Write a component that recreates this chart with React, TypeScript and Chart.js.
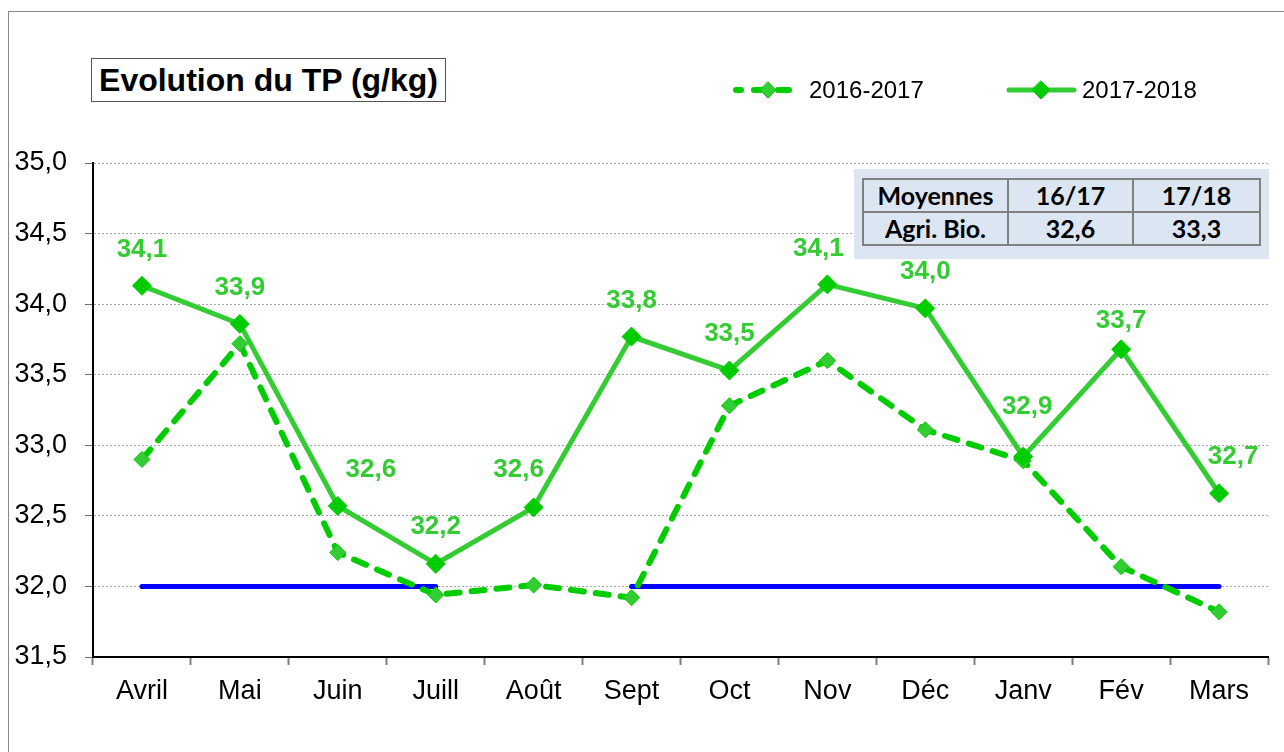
import React, { useEffect, useRef } from "react";
import { Chart, registerables } from "chart.js";

Chart.register(...registerables);

const months = ["Avril", "Mai", "Juin", "Juill", "Août", "Sept", "Oct", "Nov", "Déc", "Janv", "Fév", "Mars"];
const seriesNames = ["2016-2017", "2017-2018"];
const tp2016_2017 = [32.9, 33.72, 32.24, 31.94, 32.01, 31.92, 33.28, 33.6, 33.11, 32.89, 32.14, 31.82];
const tp2017_2018 = [34.13, 33.86, 32.57, 32.16, 32.56, 33.77, 33.53, 34.14, 33.97, 32.92, 33.68, 32.66];
const refLine = [32, 32, 32, 32, null, 32, 32, 32, 32, 32, 32, 32];
const yMin = 31.5;
const yMax = 35;
const yStep = 0.5;
const titleText = "Evolution du TP (g/kg)";
const tableHeader = ["Moyennes", "16/17", "17/18"];
const tableRow = ["Agri. Bio.", "32,6", "33,3"];

// label nudges (style): horizontal / vertical shift of each value label relative to the default spot above its point
const labelNudgeX = [0, 0, 33, 0, -15, 0, 0, -9, 0, 4, 0, 14];
const labelNudgeY = [0, 0, 0, -1, -2, 0, -1, 0, -1, -14, 8, 0];

const FONT = "'Liberation Sans', Arial, Helvetica, sans-serif";
const fmt = (v: number) => v.toFixed(1).replace(".", ",");

const SOLID_LINE = "#33CC33";
const SOLID_MARK = "#00CC00";
const DASH_LINE = "#00CC00";
const DASH_MARK = "#33CC33";

function diamond(ctx: CanvasRenderingContext2D, x: number, y: number, r: number, fill: string, stroke: string) {
  ctx.beginPath();
  ctx.moveTo(x, y - r);
  ctx.lineTo(x + r, y);
  ctx.lineTo(x, y + r);
  ctx.lineTo(x - r, y);
  ctx.closePath();
  ctx.fillStyle = fill;
  ctx.fill();
  ctx.lineWidth = 1;
  ctx.strokeStyle = stroke;
  ctx.stroke();
}

const labelPlugin = {
  id: "valueLabels",
  afterDatasetsDraw(chart: any) {
    const ctx = chart.ctx as CanvasRenderingContext2D;
    const idx = chart.data.datasets.findIndex((d: any) => d.label === seriesNames[1]);
    const meta = chart.getDatasetMeta(idx);
    ctx.save();
    ctx.font = `bold 26px ${FONT}`;
    ctx.fillStyle = SOLID_LINE;
    ctx.textAlign = "center";
    ctx.textBaseline = "middle";
    meta.data.forEach((pt: any, i: number) => {
      ctx.fillText(fmt(tp2017_2018[i]), pt.x + labelNudgeX[i], pt.y - 36 + labelNudgeY[i]);
    });
    ctx.restore();
  },
};

const legendPlugin = {
  id: "customLegend",
  afterDraw(chart: any) {
    const ctx = chart.ctx as CanvasRenderingContext2D;
    const y = 90;
    const items = [
      { x: 733, dash: [11, 13], offset: 6, line: DASH_LINE, mark: DASH_MARK, border: DASH_LINE, r: 8, w: 6, text: seriesNames[0] },
      { x: 1006, dash: [], offset: 0, line: SOLID_LINE, mark: SOLID_MARK, border: SOLID_MARK, r: 9, w: 5, text: seriesNames[1] },
    ];
    ctx.save();
    for (const it of items) {
      ctx.beginPath();
      ctx.setLineDash(it.dash);
      ctx.lineDashOffset = it.offset;
      ctx.lineCap = "round";
      ctx.lineWidth = it.w;
      ctx.strokeStyle = it.line;
      ctx.moveTo(it.x + 3, y);
      ctx.lineTo(it.x + 68, y);
      ctx.stroke();
      ctx.setLineDash([]);
      diamond(ctx, it.x + 35, y, it.r, it.mark, it.border);
      ctx.font = `24px ${FONT}`;
      ctx.fillStyle = "#000";
      ctx.textAlign = "left";
      ctx.textBaseline = "middle";
      ctx.fillText(it.text, it.x + 76, y + 1);
    }
    ctx.restore();
  },
};

export default function App() {
  const ref = useRef<HTMLCanvasElement>(null);

  useEffect(() => {
    if (!ref.current) return;
    const chart = new Chart(ref.current, {
      type: "line",
      data: {
        labels: months,
        datasets: [
          {
            label: seriesNames[1],
            data: tp2017_2018,
            borderColor: SOLID_LINE,
            borderWidth: 5,
            pointStyle: "rectRot",
            pointRadius: 9.5,
            pointBackgroundColor: SOLID_MARK,
            pointBorderColor: SOLID_MARK,
            pointBorderWidth: 1,
            tension: 0,
            order: 0,
          },
          {
            label: seriesNames[0],
            data: tp2016_2017,
            borderColor: DASH_LINE,
            borderWidth: 6,
            borderDash: [13, 12],
            borderCapStyle: "round",
            pointStyle: "rectRot",
            pointRadius: 8,
            pointBackgroundColor: DASH_MARK,
            pointBorderColor: DASH_LINE,
            pointBorderWidth: 1,
            tension: 0,
            order: 1,
          },
          {
            label: "Référence",
            data: refLine,
            borderColor: "#0000FF",
            borderWidth: 5,
            borderCapStyle: "round",
            pointRadius: 0,
            spanGaps: false,
            tension: 0,
            order: 2,
          },
        ],
      } as any,
      options: {
        responsive: false,
        animation: false,
        devicePixelRatio: 1,
        layout: { padding: { top: 163, right: 16, left: 0, bottom: 0 } },
        plugins: {
          legend: { display: false },
          tooltip: { enabled: false },
          title: { display: false },
        },
        scales: {
          x: {
            offset: true,
            afterFit: (s: any) => {
              s.height = 95;
            },
            grid: {
              offset: true,
              drawOnChartArea: false,
              drawTicks: true,
              tickLength: 8,
              tickColor: "#808080",
              tickWidth: 2,
            },
            border: { color: "#000", width: 2 },
            ticks: {
              font: { family: FONT, size: 27 },
              color: "#000",
              padding: 10,
              maxRotation: 0,
              autoSkip: false,
            },
          },
          y: {
            min: yMin,
            max: yMax,
            afterFit: (s: any) => {
              s.width = 93;
            },
            grid: {
              color: "#a8a8a8",
              lineWidth: 1,
              tickLength: 8,
              tickColor: "#707070",
              tickBorderDash: [],
            },
            border: { color: "#000", width: 2, dash: [2, 2] },
            ticks: {
              stepSize: yStep,
              font: { family: FONT, size: 27 },
              color: "#000",
              padding: 18,
              callback: (v: any) => fmt(Number(v)),
            },
          },
        },
      } as any,
      plugins: [labelPlugin, legendPlugin],
    });
    return () => chart.destroy();
  }, []);

  const cell: React.CSSProperties = {
    border: "2px solid #808080",
    textAlign: "center",
    padding: 0,
    fontFamily: "Lato, 'Open Sans', sans-serif",
    fontWeight: 700,
    fontSize: 25,
    color: "#000",
    height: 31,
    lineHeight: "31px",
    whiteSpace: "nowrap",
  };

  return (
    <div
      style={{
        position: "absolute",
        left: 0,
        top: 0,
        width: 1284,
        height: 752,
        overflow: "hidden",
        background: "#fff",
      }}
    >
      <div
        style={{
          position: "absolute",
          left: 8,
          top: 11,
          width: 2000,
          height: 2000,
          border: "1px solid #888",
        }}
      />
      <canvas ref={ref} width={1284} height={752} style={{ position: "absolute", left: 0, top: 0 }} />
      <div
        style={{
          position: "absolute",
          left: 91,
          top: 58,
          width: 355,
          height: 44,
          boxSizing: "border-box",
          border: "1px solid #555",
          background: "#fff",
          fontFamily: FONT,
          fontWeight: 700,
          fontSize: 32,
          lineHeight: "42px",
          textAlign: "center",
          color: "#000",
          whiteSpace: "nowrap",
        }}
      >
        {titleText}
      </div>
      <div
        style={{
          position: "absolute",
          left: 854,
          top: 169,
          width: 415,
          height: 90,
          background: "#DCE6F2",
        }}
      >
        <table
          style={{
            position: "absolute",
            left: 8,
            top: 9,
            width: 397,
            borderCollapse: "collapse",
            tableLayout: "fixed",
          }}
        >
          <colgroup>
            <col style={{ width: 145 }} />
            <col style={{ width: 125 }} />
            <col style={{ width: 127 }} />
          </colgroup>
          <tbody>
            <tr>
              {tableHeader.map((t) => (
                <td key={t} style={cell}>
                  {t}
                </td>
              ))}
            </tr>
            <tr>
              {tableRow.map((t) => (
                <td key={t} style={cell}>
                  {t}
                </td>
              ))}
            </tr>
          </tbody>
        </table>
      </div>
    </div>
  );
}
